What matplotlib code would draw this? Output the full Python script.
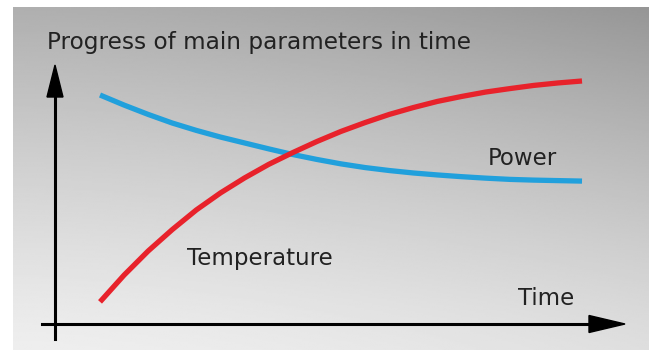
import numpy as np
import matplotlib
matplotlib.use('Agg')
import matplotlib.pyplot as plt
from matplotlib.patches import Polygon

# data (relative units)
time = [0, 0.5, 1, 1.5, 2, 2.5, 3, 3.5, 4, 4.5, 5,
        5.5, 6, 6.5, 7, 7.5, 8, 8.5, 9, 9.5, 10]
power = [93.9, 89.8, 86.0, 82.5, 79.5, 76.8, 74.4, 72.0, 69.7, 67.7, 65.9,
         64.4, 63.2, 62.2, 61.4, 60.7, 60.1, 59.6, 59.3, 59.1, 58.9]
temperature = [9.8, 20.7, 30.5, 39.2, 47.2, 54.1, 60.2, 65.7, 70.5, 75.0, 79.1,
               82.7, 86.0, 88.8, 91.3, 93.3, 95.1, 96.5, 97.8, 98.8, 99.6]

title = 'Progress of main parameters in time'
labels = {'Power': (488, 165), 'Temperature': (187, 265), 'Time': (518, 305)}

W, H = 655, 352
fig = plt.figure(figsize=(W / 100, H / 100), dpi=100)

def fx(px):
    return px / W

def fy(py):
    return 1 - py / H

# gradient background panel
bg = fig.add_axes([0, 0, 1, 1])
bg.set_xlim(0, 1)
bg.set_ylim(0, 1)
bg.axis('off')
xx, yy = np.meshgrid(np.linspace(0, 1, 300), np.linspace(0, 1, 200))
t = yy ** 1.2          # 1 at top
r = xx ** 1.5          # 1 at right
v = (238 - 63 * t - 16 * r - 9 * t * r) / 255
bg.imshow(v, cmap='gray', vmin=0, vmax=1, origin='lower', aspect='auto',
          extent=[fx(13), fx(649), fy(350), fy(7)], interpolation='bilinear')

# main axes: origin at the axis crossing, top at the y arrow tip
x0, y0, x1, y1 = 55, 324, 625, 65
ax = fig.add_axes([fx(x0), fy(y0), fx(x1) - fx(x0), fy(y1) - fy(y0)])
ax.patch.set_alpha(0)
ax.axis('off')
ax.set_xlim(-0.934, 10.892)
ax.set_ylim(0.8, 106.1)

ax.plot(time, power, color='#21a0dc', lw=3.8, solid_capstyle='butt', solid_joinstyle='round')
ax.plot(time, temperature, color='#e8222b', lw=3.8, solid_capstyle='butt', solid_joinstyle='round')

# axes with arrow heads
lw = 2.2
fig.add_artist(plt.Line2D([fx(42), fx(595)], [fy(y0), fy(y0)], color='black', lw=lw))
fig.add_artist(plt.Line2D([fx(x0), fx(x0)], [fy(339), fy(92)], color='black', lw=lw))
fig.add_artist(Polygon([[fx(589), fy(y0 - 8.5)], [fx(x1), fy(y0)], [fx(589), fy(y0 + 8.5)]],
                       closed=True, color='black', transform=fig.transFigure))
fig.add_artist(Polygon([[fx(x0 - 8), fy(97)], [fx(x0), fy(y1)], [fx(x0 + 8), fy(97)]],
                       closed=True, color='black', transform=fig.transFigure))

fig.text(fx(47), fy(49), title, fontsize=16.7, color='#222222', va='baseline')
for name, (px, py) in labels.items():
    fig.text(fx(px), fy(py), name, fontsize=16.5, color='#222222', va='baseline')

fig.savefig('out.png', dpi=100, facecolor='white')
